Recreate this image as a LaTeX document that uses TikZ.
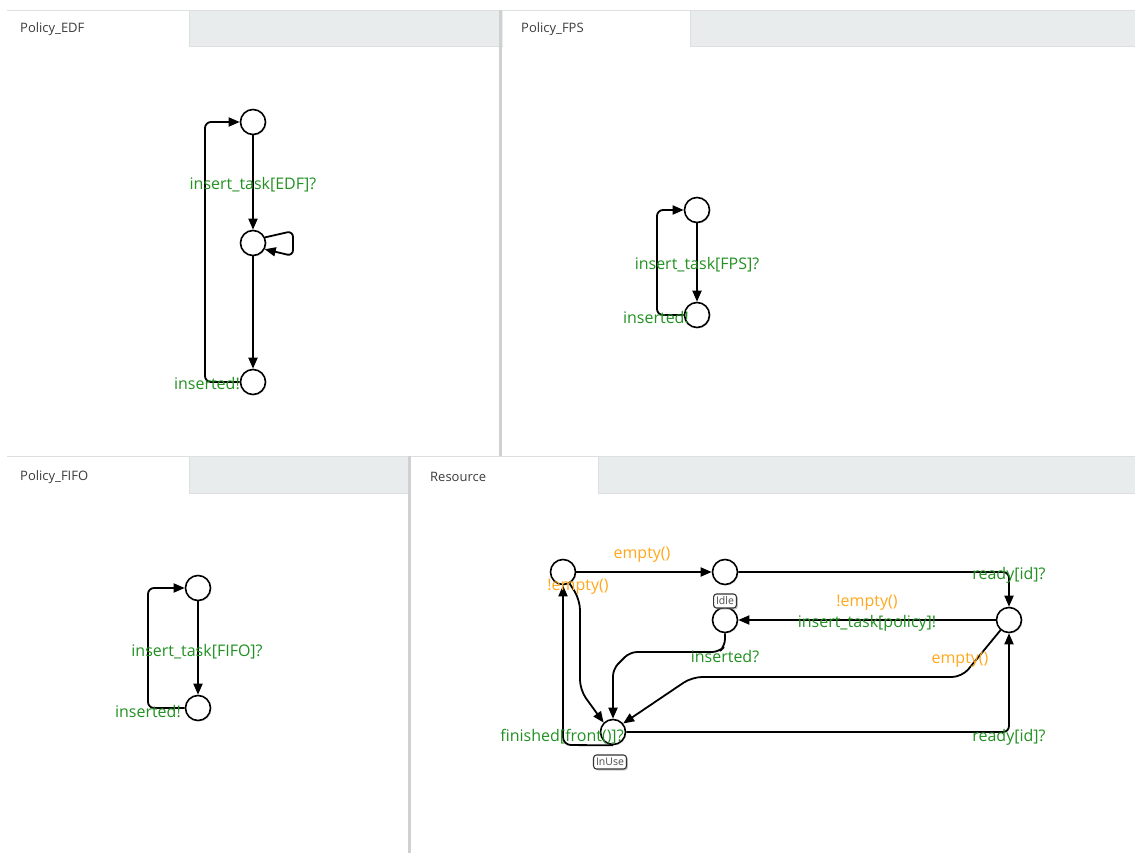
\documentclass[tikz,border=0pt]{standalone}
\usepackage{fontspec}
\setmainfont{Open Sans}
\usetikzlibrary{arrows.meta,shadows}

\definecolor{tabgray}{RGB}{233,236,236}
\definecolor{tabline}{RGB}{220,224,225}
\definecolor{divider}{RGB}{208,208,208}
\definecolor{syncgreen}{RGB}{34,145,34}
\definecolor{guardorange}{RGB}{255,168,28}
\definecolor{tabtext}{RGB}{60,60,60}

\tikzset{
  st/.style={circle, draw=black, line width=1.6pt, fill=white, minimum size=25pt, inner sep=0pt,
             drop shadow={shadow xshift=1pt, shadow yshift=-1pt, opacity=0.25}},
  edge/.style={draw=black, line width=1.8pt, -{Triangle[length=11pt,width=9pt]}},
  sync/.style={text=syncgreen, font=\fontsize{16}{18}\selectfont, inner sep=0pt},
  guard/.style={text=guardorange, font=\fontsize{16}{18}\selectfont, inner sep=0pt},
  tag/.style={draw=black!80, line width=1.1pt, fill=white, rounded corners=3pt, inner xsep=2.5pt,
              inner ysep=0pt, minimum height=14pt, text=black!70, font=\fontsize{10.5}{12}\selectfont,
              drop shadow={shadow xshift=1.5pt, shadow yshift=-1.5pt, opacity=0.4}},
  tabname/.style={anchor=west, text=tabtext, font=\fontsize{13}{15}\selectfont, inner sep=0pt},
}

\begin{document}
\begin{tikzpicture}[x=1pt,y=-1pt]
\useasboundingbox (0,0) rectangle (1135,853);
\fill[white] (0,0) rectangle (1135,853);

% ---- tab bars ----
\filldraw[fill=tabgray, draw=tabline, line width=0.8pt] (7,10) rectangle (1135,46);
\fill[white] (7.4,10.4) rectangle (189,47);
\fill[white] (503,10.4) rectangle (690,47);
\draw[tabline, line width=0.8pt] (7,10) -- (1135,10);
\draw[tabline, line width=0.8pt] (189,10) -- (189,46);
\draw[tabline, line width=0.8pt] (690,10) -- (690,46);
\fill[divider] (499,10) rectangle (502,456);

\filldraw[fill=tabgray, draw=tabline, line width=0.8pt] (7,456) rectangle (1135,493);
\fill[white] (7.4,456.4) rectangle (189,494);
\fill[white] (411,456.4) rectangle (598,494);
\draw[tabline, line width=0.8pt] (7,456) -- (1135,456);
\draw[tabline, line width=0.8pt] (189,456) -- (189,493);
\draw[tabline, line width=0.8pt] (598,456) -- (598,493);
\fill[divider] (408,456) rectangle (411,853);

\node[tabname] (tEDF) at (20,29) {Policy\_EDF};
\node[tabname] (tFPS) at (521,29) {Policy\_FPS};
\node[tabname] (tFIFO) at (20,477) {Policy\_FIFO};
\node[tabname] (tRes) at (430,477) {Resource};

% ---- Policy_EDF ----
\node[st] (e0) at (253,122) {};
\node[st] (e1) at (253,243) {};
\node[st] (e2) at (253,382) {};
\draw[edge] (e0) -- (e1);
\draw[edge] (e1) -- (e2);
\draw[edge, rounded corners=6pt] (e1.25) -- (293,231) -- (293,256) -- (e1.-28);
\draw[edge, rounded corners=6pt] (e2.west) -- (205,382) -- (205,122) -- (e0.west);
\node[sync] (eLbl) at (253,185) {insert\_task[EDF]?};
\node[sync, anchor=east] (eIns) at (240,384) {inserted!};

% ---- Policy_FPS ----
\node[st] (f0) at (697,210) {};
\node[st] (f1) at (697,315) {};
\draw[edge] (f0) -- (f1);
\draw[edge, rounded corners=6pt] (f1.west) -- (657,315) -- (657,210) -- (f0.west);
\node[sync] (fLbl) at (697,265) {insert\_task[FPS]?};
\node[sync, anchor=east] (fIns) at (689,318) {inserted!};

% ---- Policy_FIFO ----
\node[st] (q0) at (198,588) {};
\node[st] (q1) at (198,708) {};
\draw[edge] (q0) -- (q1);
\draw[edge, rounded corners=6pt] (q1.west) -- (148,708) -- (148,588) -- (q0.west);
\node[sync] (qLbl) at (197,652) {insert\_task[FIFO]?};
\node[sync, anchor=east] (qIns) at (181,712) {inserted!};

% ---- Resource ----
\node[st] (rA) at (563,572) {};
\node[st] (rIdle) at (725,572) {};
\node[st] (rC) at (725,620) {};
\node[st] (rUse) at (613,732) {};
\node[st] (rE) at (1009,620) {};
\node[tag] (tagIdle) at (725,601) {Idle};
\node[tag] (tagUse) at (610,762) {InUse};

\draw[edge] (rA) -- (rIdle);
\draw[edge, rounded corners=6pt] (rIdle.east) -- (1009,572) -- (rE.north);
\draw[edge] (rE) -- (rC);
\draw[edge, rounded corners=7pt] (rC.south) -- (725,646) -- (719,652) -- (630,652) -- (613,669) -- (rUse.north);
\draw[edge, rounded corners=10pt] (rE.-130) -- (962,677) -- (692,677) -- (rUse.40);
\draw[edge, rounded corners=6pt] (rUse.east) -- (1009,732) -- (rE.south);
\draw[edge, rounded corners=10pt] (rA.-60) -- (580,600) -- (580,690) -- (rUse.135);
\draw[edge, rounded corners=8pt] (rUse.south) -- (563,745) -- (rA.south);

\node[guard] (lEmpty1) at (642,555) {empty()};
\node[sync] (lReady1) at (1009,575) {ready[id]?};
\node[guard] (lNotEmpty1) at (867,603) {!empty()};
\node[sync] (lInsTask) at (867,623) {insert\_task[policy]!};
\node[sync] (lInserted) at (725,657) {inserted?};
\node[guard] (lEmpty2) at (960,660) {empty()};
\node[sync] (lReady2) at (1009,737) {ready[id]?};
\node[sync] (lFinished) at (562,737) {finished[front()]?};
\node[guard] (lNotEmpty2) at (578,587) {!empty()};
\end{tikzpicture}
\end{document}
